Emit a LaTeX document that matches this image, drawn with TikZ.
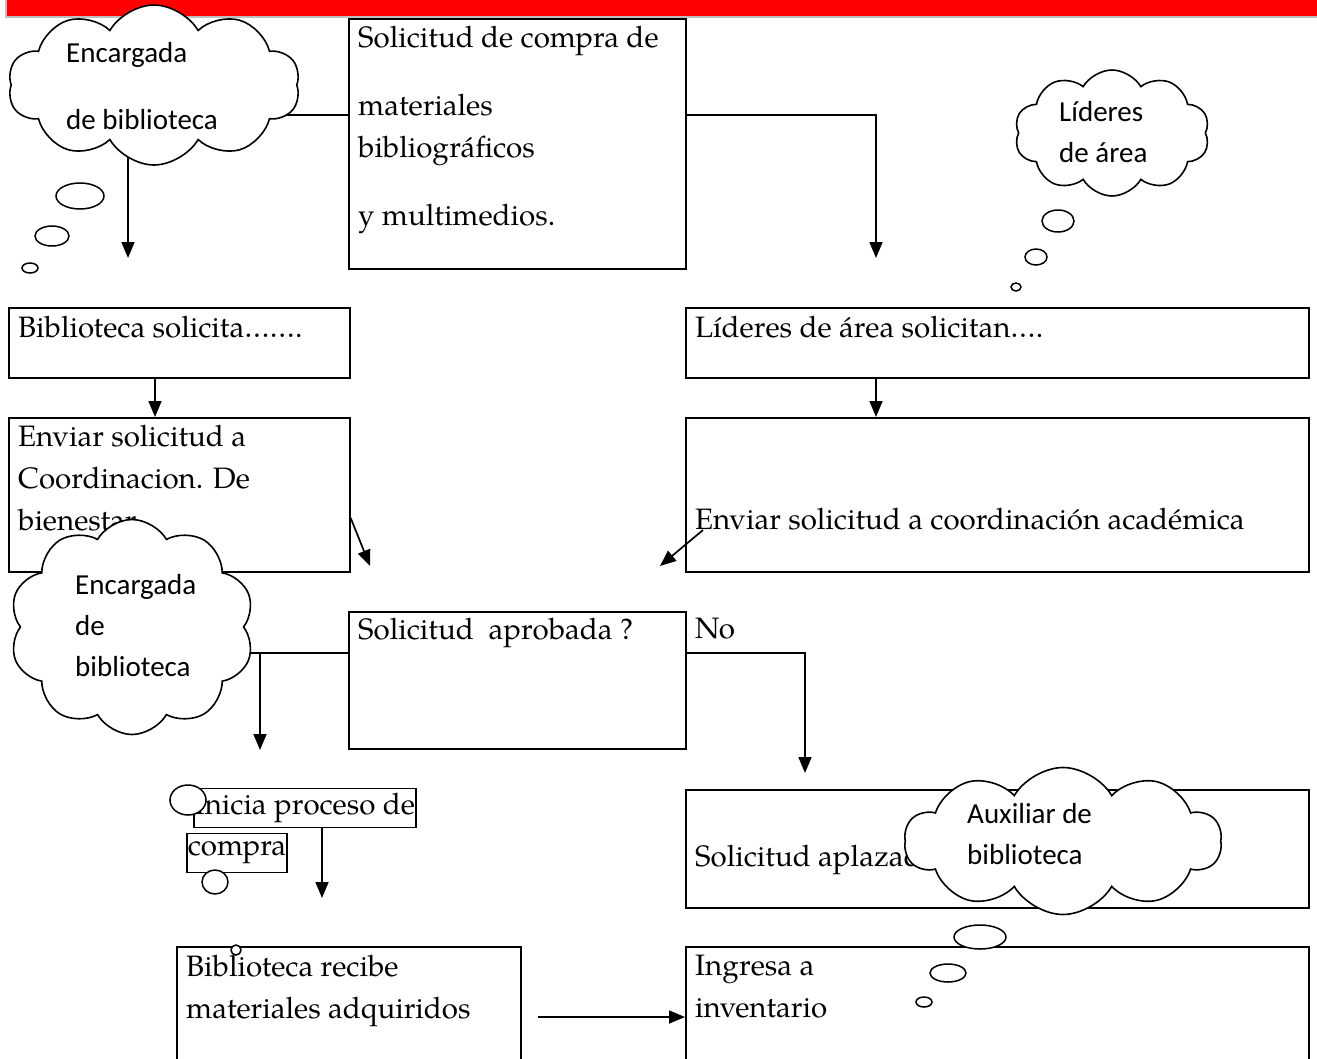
\documentclass[tikz,border=0pt]{standalone}
\usepackage{fontspec}
\newfontfamily\pal{TeX Gyre Pagella}
\newfontfamily\calibri{Carlito}
\usetikzlibrary{positioning,arrows.meta,shapes.symbols,shapes.geometric,calc}
\definecolor{rojo}{HTML}{FF0000}
\definecolor{gris}{HTML}{BFBFBF}

\begin{document}
\begin{tikzpicture}[x=1pt,y=-1pt,
  paso/.style={draw,line width=1.7pt,rectangle,inner sep=0pt,anchor=north west},
  txt/.style={font=\pal\fontsize{29.5}{42}\selectfont,anchor=north west,inner sep=0pt,align=left},
  nube/.style={cloud,draw,fill=white,line width=1.6pt,cloud puffs=10,cloud puff arc=120,cloud ignores aspect,inner sep=0pt},
  nubetxt/.style={font=\calibri\fontsize{29}{41}\selectfont,anchor=north west,inner sep=0pt,align=left},
  burbuja/.style={ellipse,draw,fill=white,line width=1.5pt,inner sep=0pt},
  linea/.style={line width=1.7pt},
  flecha/.style={line width=1.7pt,-{Triangle[length=16pt,width=13pt]}}]
\clip (0,0) rectangle (1317,1058);
\fill[white] (0,0) rectangle (1317,1058);
% barra superior
\fill[gris] (5,0) rectangle (1317,18);
\fill[rojo] (7,0) rectangle (1317,16);

% centros de las nubes
\coordinate (c1) at (154,85);
\coordinate (c2) at (1112,133);
\coordinate (c3) at (132,627);
\coordinate (c4) at (1063,841);

% cajas
\node[paso,minimum width=337pt,minimum height=250pt] (solic) at (348,18) {};
\node[txt] (solicT) at (358,26) {Solicitud de compra de\\[26pt]materiales\\bibliográficos\\[26pt]y multimedios.};
\node[paso,minimum width=341pt,minimum height=70pt] (bibsol) at (8,307) {};
\node[txt] (bibsolT) at (18,316) {Biblioteca solicita…….};
\node[paso,minimum width=623pt,minimum height=70pt] (lidsol) at (685,307) {};
\node[txt] (lidsolT) at (695,316) {Líderes de área solicitan….};
\node[paso,minimum width=341pt,minimum height=154pt] (envbien) at (8,417) {};
\node[txt] (envbienT) at (18,425) {Enviar solicitud a\\Coordinacion. De\\bienestar};
\node[paso,minimum width=623pt,minimum height=154pt] (envacad) at (685,417) {};
\node[txt] (envacadT) at (695,508) {Enviar solicitud a coordinación académica};
\node[paso,minimum width=337pt,minimum height=137pt] (aprob) at (348,611) {};
\node[txt] (aprobT) at (358,618) {Solicitud\ \ aprobada ?};
\node[txt] (no) at (695,618) {No};
\node[txt,draw,line width=1.7pt,anchor=west,inner xsep=1pt,minimum height=39pt] (inicia) at (193,808) {Inicia proceso de};
\node[txt,draw,line width=1.7pt,anchor=west,inner xsep=1pt,minimum height=39pt] (compra) at (186,853) {compra};
\node[paso,minimum width=344pt,minimum height=140pt] (recibe) at (176,946) {};
\node[txt] (recibeT) at (186,955) {Biblioteca recibe\\materiales adquiridos};
\node[paso,minimum width=623pt,minimum height=118pt] (aplaz) at (685,789) {};
\node[txt] (aplazT) at (695,845) {Solicitud aplazada};
\node[paso,minimum width=623pt,minimum height=140pt] (invent) at (685,946) {};
\node[txt] (inventT) at (695,955) {Ingresa a\\inventario};

% conectores
\coordinate (k1) at (0,115);
\coordinate (f1) at (128,258);
\coordinate (f2) at (876,258);
\coordinate (xb) at (155,0);
\draw[flecha] (c1 -| f1) -- (f1);
\draw[linea] (c1 |- k1) -- (solic.west |- k1);
\draw[flecha] (solic.east |- k1) -| (f2);
\draw[flecha] (bibsol.south -| xb) -- (envbien.north -| xb);
\draw[flecha] (lidsol.south -| f2) -- (envacad.north -| f2);
\coordinate (d1) at (0,518);
\coordinate (d2) at (370,566);
\coordinate (d3) at (703,530);
\coordinate (d4) at (660,566);
\draw[flecha] (envbien.east |- d1) -- (d2);
\draw[flecha] (d3) -- (d4);
\coordinate (k3) at (0,653);
\coordinate (f3) at (260,750);
\coordinate (f4) at (805,773);
\draw[linea] (c3 |- k3) -- (aprob.west |- k3);
\draw[flecha] (f3 |- k3) -- (f3);
\draw[flecha] (aprob.east |- k3) -| (f4);
\coordinate (f5) at (322,898);
\draw[flecha] (inicia.south -| f5) -- (f5);
\coordinate (k6) at (538,1017);
\draw[flecha] (k6) -- (invent.west |- k6);

% nubes
\node[nube,minimum width=292pt,minimum height=160pt] (encarg1) at (c1) {};
\node[nubetxt] (encarg1T) at (66,42) {Encargada\\[26pt]de biblioteca};
\node[nube,minimum width=195pt,minimum height=126pt] (lideres) at (c2) {};
\node[nubetxt] (lideresT) at (1059,101) {Líderes\\de área};
\node[nube,minimum width=245pt,minimum height=215pt] (encarg2) at (c3) {};
\node[nubetxt] (encarg2T) at (75,574) {Encargada\\de\\biblioteca};
\node[nube,minimum width=317pt,minimum height=147pt] (auxil) at (c4) {};
\node[nubetxt] (auxilT) at (967,803) {Auxiliar de\\biblioteca};

% burbujas
\node[burbuja,minimum width=48pt,minimum height=26pt] (b1a) at (80,196) {};
\node[burbuja,minimum width=34pt,minimum height=20pt] (b1b) at (52,236) {};
\node[burbuja,minimum width=16pt,minimum height=10pt] (b1c) at (30,268) {};
\node[burbuja,minimum width=32pt,minimum height=22pt] (b2a) at (1058,221) {};
\node[burbuja,minimum width=22pt,minimum height=16pt] (b2b) at (1036,257) {};
\node[burbuja,minimum width=10pt,minimum height=8pt] (b2c) at (1016,287) {};
\node[burbuja,minimum width=36pt,minimum height=30pt] (b3a) at (188,800) {};
\node[burbuja,minimum width=26pt,minimum height=24pt] (b3b) at (215,882) {};
\node[burbuja,minimum width=10pt,minimum height=10pt] (b3c) at (236,950) {};
\node[burbuja,minimum width=52pt,minimum height=24pt] (b4a) at (980,937) {};
\node[burbuja,minimum width=36pt,minimum height=18pt] (b4b) at (948,973) {};
\node[burbuja,minimum width=16pt,minimum height=10pt] (b4c) at (924,1002) {};
\end{tikzpicture}
\end{document}
